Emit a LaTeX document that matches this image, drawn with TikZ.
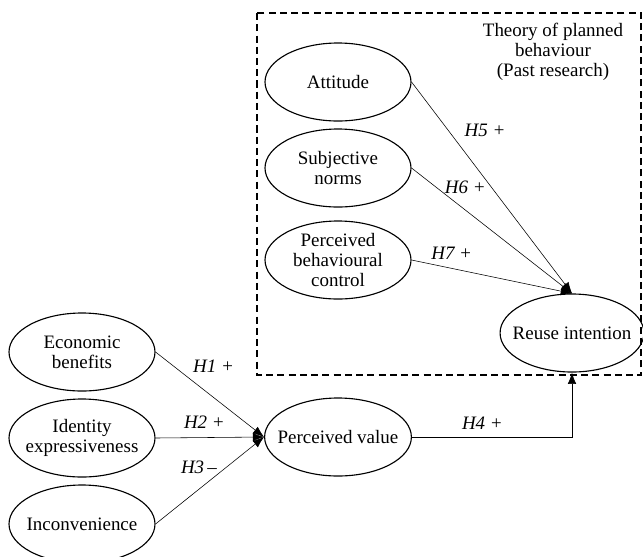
\documentclass[tikz,border=0pt]{standalone}
\usepackage{fontspec}
\setmainfont{Liberation Serif}
\usepackage{tikz}
\usetikzlibrary{shapes.geometric,arrows.meta}
\tikzset{
  construct/.style={ellipse,draw,line width=0.8pt,align=center,
    minimum width=3.65cm,minimum height=1.95cm,inner xsep=-6pt,inner ysep=-3pt},
  hyp/.style={font=\fontsize{13.5}{14}\selectfont\itshape}
}

\begin{document}
\begin{tikzpicture}[>={Latex[length=8pt,width=6pt]},font=\fontsize{13.5}{14}\selectfont,node distance=2.15cm]
      \useasboundingbox (0,0) rectangle (16.075,-13.9);
      \draw[dashed,dash pattern=on 5pt off 3pt,line width=0.8pt] (6.425,-0.325) rectangle (16.025,-9.375);
      \node [align=center] (9) at (13.825,-1.3) {Theory of planned\\behaviour\\(Past research)};

      \node [construct] (1) at (8.45,-2.05) {Attitude};
      \node [construct,below of=1] (2) {Subjective\\norms};
      \node [construct,below of=2,yshift=-0.15cm] (3) {Perceived\\behavioural\\control};
      \node [construct,minimum width=3.5cm] (4) at (14.3,-8.325) {Reuse intention};
      \node [construct] (5) at (2.05,-8.8) {Economic\\benefits};
      \node [construct,below of=5] (6) {Identity\\expressiveness};
      \node [construct,below of=6] (7) {Inconvenience};
      \node [construct] (8) at (8.45,-10.925) {Perceived value};

      \draw[->] (1.east) -- node [hyp,pos=0.23,right,xshift=8pt] {H5 +} (4.north);
      \draw[->] (2.east) -- node [hyp,pos=0.3,above,xshift=4pt,yshift=5pt] {H6 +} (4.north);
      \draw[->] (3.east) -- node [hyp,pos=0.25,above,yshift=3pt] {H7 +} (4.north);
      \draw[->] (5.east) -- node [hyp,pos=0.3,above right] {H1 +} (8.west);
      \draw[->] (6.east) -- node [hyp,pos=0.45,above,yshift=3pt] {H2 +} (8.west);
      \draw[->] (7.east) -- node [hyp,pos=0.65,left,xshift=-3pt] {H3\,--} (8.west);
      \draw[->] (8.east) -| node [hyp,pos=0.22,above,yshift=2pt] {H4 +} (4.south);
    \end{tikzpicture}
\end{document}
